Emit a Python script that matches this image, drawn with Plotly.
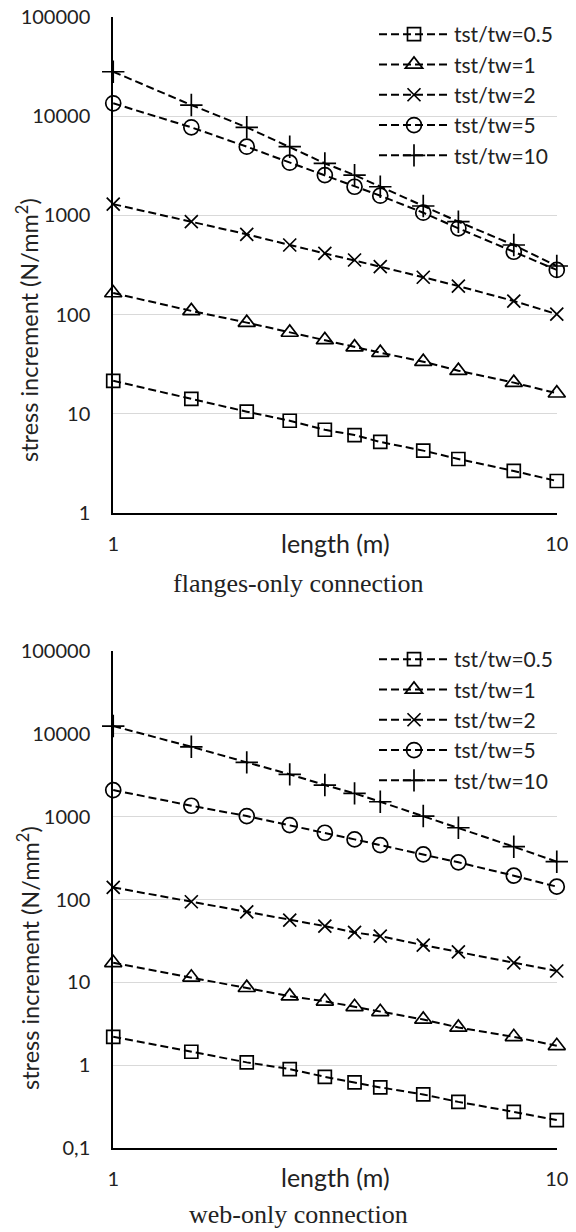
import plotly.graph_objects as go

# page body has an 8px margin; figure sized so the page fits the 576x1232 window
OFF = 8
W, H = 576 - OFF, 1232 - OFF

length_m = [1, 1.5, 2, 2.5, 3, 3.5, 4, 5, 6, 8, 10]
series_names = ["tst/tw=0.5", "tst/tw=1", "tst/tw=2", "tst/tw=5", "tst/tw=10"]

# flanges-only connection
flanges_05 = [21.5, 14.1, 10.5, 8.5, 6.9, 6.1, 5.2, 4.25, 3.5, 2.65, 2.1]
flanges_1 = [165, 109, 83, 66, 55.5, 47, 41.3, 33.5, 27.2, 20.6, 16.1]
flanges_2 = [1300, 864, 645, 503, 415, 355, 304, 238, 194, 137, 101]
flanges_5 = [13500, 7730, 4930, 3400, 2550, 1945, 1580, 1065, 741, 430, 282]
flanges_10 = [28100, 12970, 7730, 4930, 3350, 2550, 1945, 1244, 864, 503, 309]

# web-only connection
web_05 = [2.2, 1.45, 1.08, 0.895, 0.723, 0.618, 0.538, 0.443, 0.36, 0.273, 0.217]
web_1 = [17.2, 11.5, 8.6, 6.8, 5.9, 5.06, 4.4, 3.56, 2.85, 2.2, 1.71]
web_2 = [140, 94, 71, 56.4, 47.7, 40, 36.1, 28.1, 23.3, 17.2, 13.7]
web_5 = [2095, 1355, 1017, 792, 640, 532, 454, 351, 281, 194, 143]
web_10 = [12420, 6980, 4530, 3245, 2410, 1910, 1514, 1017, 735, 434, 286]

symbols = ["square-open", "triangle-up-open", "x-thin-open", "circle-open", "cross-thin-open"]
sizes = [13, 15, 13, 15, 16]

top_ticks = [1, 10, 100, 1000, 10000, 100000]
top_ticktext = ["1", "10", "100", "1000", "10000", "100000"]
bot_ticks = [0.1, 1, 10, 100, 1000, 10000, 100000]
bot_ticktext = ["0,1", "1", "10", "100", "1000", "10000", "100000"]
x_ticks = [1, 10]
x_ticktext = ["1", "10"]

FONT = "Lato"
SERIF = "Liberation Serif"
TXT = "#222"
EPS = 0.0005

def px_x(p):
    return (p - OFF) / W

def px_y(p):
    return 1 - (p - OFF) / H

fig = go.Figure()

for data, xa, ya, lg in [
    ([flanges_05, flanges_1, flanges_2, flanges_5, flanges_10], "x", "y", "legend"),
    ([web_05, web_1, web_2, web_5, web_10], "x2", "y2", "legend2"),
]:
    for name, vals, sym, sz in zip(series_names, data, symbols, sizes):
        fig.add_trace(go.Scatter(
            x=length_m, y=vals, name=name, mode="lines+markers",
            xaxis=xa, yaxis=ya, legend=lg, cliponaxis=False,
            line=dict(color="black", width=2, dash="8px,4px"),
            marker=dict(symbol=sym, size=sz, color="black",
                        line=dict(color="black", width=1.7)),
        ))

xdom = [px_x(113), px_x(557)]
grid = "#d9d9d9"
common_x = dict(type="log", range=[-EPS, 1 + EPS], showline=True, linecolor="black",
                linewidth=1.5, showgrid=True, gridcolor=grid, gridwidth=1,
                tickmode="array", tickvals=x_ticks, ticktext=x_ticktext,
                ticks="", ticklabelstandoff=12, zeroline=False, automargin=False,
                ticklabeloverflow="allow",
                tickfont=dict(family=FONT, size=20, color=TXT))
common_y = dict(type="log", showline=True, linecolor="black", linewidth=1.5,
                showgrid=True, gridcolor=grid, gridwidth=1, tickmode="array",
                ticks="", ticklabelstandoff=17, zeroline=False, automargin=False,
                ticklabeloverflow="allow",
                tickfont=dict(family=FONT, size=20, color=TXT))

legend_common = dict(xanchor="right", yanchor="top", bgcolor="rgba(0,0,0,0)",
                     itemwidth=70, font=dict(family=FONT, size=21, color=TXT),
                     tracegroupgap=0)

fig.update_layout(
    width=W, height=H,
    margin=dict(l=0, r=0, t=0, b=0, autoexpand=False),
    paper_bgcolor="white", plot_bgcolor="white",
    showlegend=True,
    xaxis=dict(domain=xdom, anchor="y", **common_x),
    yaxis=dict(domain=[px_y(513), px_y(17)], anchor="x", range=[-EPS, 5 + EPS],
               tickvals=top_ticks, ticktext=top_ticktext, **common_y),
    xaxis2=dict(domain=xdom, anchor="y2", **common_x),
    yaxis2=dict(domain=[px_y(1148), px_y(651)], anchor="x2", range=[-1 - EPS, 5 + EPS],
                tickvals=bot_ticks, ticktext=bot_ticktext, **common_y),
    legend=dict(x=px_x(558), y=px_y(14), **legend_common),
    legend2=dict(x=px_x(558), y=px_y(639), **legend_common),
)

annotations = [
    dict(text="length (m)", x=px_x(335), y=px_y(543), font=dict(family=FONT, size=25, color=TXT)),
    dict(text="length (m)", x=px_x(335), y=px_y(1177), font=dict(family=FONT, size=25, color=TXT)),
    dict(text="flanges-only connection", x=px_x(298), y=px_y(583), font=dict(family=SERIF, size=26, color=TXT)),
    dict(text="web-only connection", x=px_x(298), y=px_y(1214), font=dict(family=SERIF, size=26, color=TXT)),
    dict(text="stress increment (N/mm<sup>2</sup>)", x=px_x(28), y=px_y(330), textangle=-90,
         font=dict(family=FONT, size=23.5, color=TXT)),
    dict(text="stress increment (N/mm<sup>2</sup>)", x=px_x(28), y=px_y(958), textangle=-90,
         font=dict(family=FONT, size=23.5, color=TXT)),
]
for a in annotations:
    fig.add_annotation(xref="paper", yref="paper", showarrow=False,
                       xanchor="center", yanchor="middle", **a)

fig.write_html("out.html")
